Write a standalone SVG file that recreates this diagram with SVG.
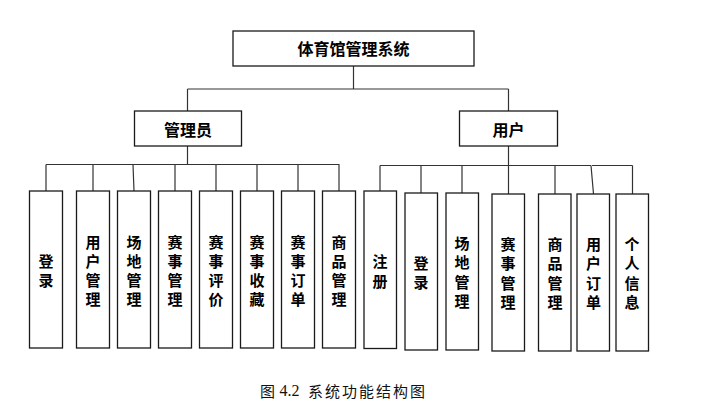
<svg xmlns="http://www.w3.org/2000/svg" width="712" height="410" viewBox="0 0 712 410">
<style>
.box{fill:#fff;stroke:#1a1a1a;stroke-width:1.3}
.ln{fill:none;stroke:#333;stroke-width:1.2}
.t{font-family:"Noto Sans CJK SC","Noto Sans",sans-serif;font-weight:bold;fill:#000;text-anchor:middle;dominant-baseline:central}
.h{font-size:16px}
.v{font-size:15px}
.cap{font-family:"Noto Sans CJK SC",sans-serif;font-size:15px;fill:#111;dominant-baseline:central}
.num{font-family:"Liberation Serif",serif;font-size:16px;fill:#111;dominant-baseline:central}
</style>
<rect width="712" height="410" fill="#fff"/>
<g id="connectors">
<path class="ln" d="M353.5,66 V89 M187.5,89 H508.5 M187.5,89 V111 M508.5,89 V111"/>
<path class="ln" d="M187.5,146 V164.5 M46,164.5 H339.5 M46,164.5 V191 M93,164.5 V191 M133,164.5 L134,191 M175,164.5 V191 M216,164.5 V191 M257,164.5 V191 M298,164.5 V191 M339,164.5 V191"/>
<path class="ln" d="M508.5,146 V194 M380,165.5 H591 M592,165.5 H632.5 M380,165.5 V191 M421,165.5 V193 M462,165.5 V193 M555,165.5 V194 M591,165.5 L593.5,194 M632.5,165.5 V194"/>
</g>
<g id="root"><rect class="box" x="233" y="31" width="241" height="35"/><text class="t h" x="353.5" y="48">体育馆管理系统</text></g>
<g id="admin"><rect class="box" x="134.5" y="111" width="107" height="35"/><text class="t h" x="188" y="129">管理员</text></g>
<g id="user"><rect class="box" x="459.5" y="111" width="98" height="35"/><text class="t h" x="508.5" y="129">用户</text></g>

<g id="a1"><rect class="box" x="29.5" y="191" width="33" height="157"/><text class="t v"><tspan x="46" y="260">登</tspan><tspan x="46" y="279">录</tspan></text></g>
<g id="a2"><rect class="box" x="76.5" y="191" width="33" height="157"/><text class="t v"><tspan x="93" y="241">用</tspan><tspan x="93" y="260">户</tspan><tspan x="93" y="279">管</tspan><tspan x="93" y="298">理</tspan></text></g>
<g id="a3"><rect class="box" x="117.5" y="191" width="33" height="157"/><text class="t v"><tspan x="134" y="241">场</tspan><tspan x="134" y="260">地</tspan><tspan x="134" y="279">管</tspan><tspan x="134" y="298">理</tspan></text></g>
<g id="a4"><rect class="box" x="158.5" y="191" width="33" height="157"/><text class="t v"><tspan x="175" y="241">赛</tspan><tspan x="175" y="260">事</tspan><tspan x="175" y="279">管</tspan><tspan x="175" y="298">理</tspan></text></g>
<g id="a5"><rect class="box" x="199.5" y="191" width="33" height="157"/><text class="t v"><tspan x="216" y="241">赛</tspan><tspan x="216" y="260">事</tspan><tspan x="216" y="279">评</tspan><tspan x="216" y="298">价</tspan></text></g>
<g id="a6"><rect class="box" x="240.5" y="191" width="33" height="157"/><text class="t v"><tspan x="257" y="241">赛</tspan><tspan x="257" y="260">事</tspan><tspan x="257" y="279">收</tspan><tspan x="257" y="298">藏</tspan></text></g>
<g id="a7"><rect class="box" x="281.5" y="191" width="33" height="157"/><text class="t v"><tspan x="298" y="241">赛</tspan><tspan x="298" y="260">事</tspan><tspan x="298" y="279">订</tspan><tspan x="298" y="298">单</tspan></text></g>
<g id="a8"><rect class="box" x="322.5" y="191" width="33" height="157"/><text class="t v"><tspan x="339" y="241">商</tspan><tspan x="339" y="260">品</tspan><tspan x="339" y="279">管</tspan><tspan x="339" y="298">理</tspan></text></g>

<g id="u1"><rect class="box" x="364" y="191" width="32.5" height="157.5"/><text class="t v"><tspan x="380" y="260">注</tspan><tspan x="380" y="280">册</tspan></text></g>
<g id="u2"><rect class="box" x="405" y="193" width="32.5" height="157"/><text class="t v"><tspan x="421" y="262">登</tspan><tspan x="421" y="281">录</tspan></text></g>
<g id="u3"><rect class="box" x="446" y="193" width="32.5" height="157"/><text class="t v"><tspan x="462" y="242">场</tspan><tspan x="462" y="261">地</tspan><tspan x="462" y="281">管</tspan><tspan x="462" y="300">理</tspan></text></g>
<g id="u4"><rect class="box" x="492" y="194" width="32.5" height="157"/><text class="t v"><tspan x="508" y="243">赛</tspan><tspan x="508" y="262">事</tspan><tspan x="508" y="282">管</tspan><tspan x="508" y="301">理</tspan></text></g>
<g id="u5"><rect class="box" x="538.5" y="194" width="32.5" height="157"/><text class="t v"><tspan x="555" y="243">商</tspan><tspan x="555" y="262">品</tspan><tspan x="555" y="282">管</tspan><tspan x="555" y="301">理</tspan></text></g>
<g id="u6"><rect class="box" x="577" y="194" width="32.5" height="157"/><text class="t v"><tspan x="593.5" y="243">用</tspan><tspan x="593.5" y="262">户</tspan><tspan x="593.5" y="282">订</tspan><tspan x="593.5" y="301">单</tspan></text></g>
<g id="u7"><rect class="box" x="616" y="194" width="32.5" height="157"/><text class="t v"><tspan x="632" y="243">个</tspan><tspan x="632" y="262">人</tspan><tspan x="632" y="282">信</tspan><tspan x="632" y="301">息</tspan></text></g>

<g id="caption">
<text class="cap" x="260" y="390">图</text>
<text class="num" x="279.5" y="390">4.2</text>
<text class="cap" x="308" y="390" textLength="117">系统功能结构图</text>
</g>
</svg>
